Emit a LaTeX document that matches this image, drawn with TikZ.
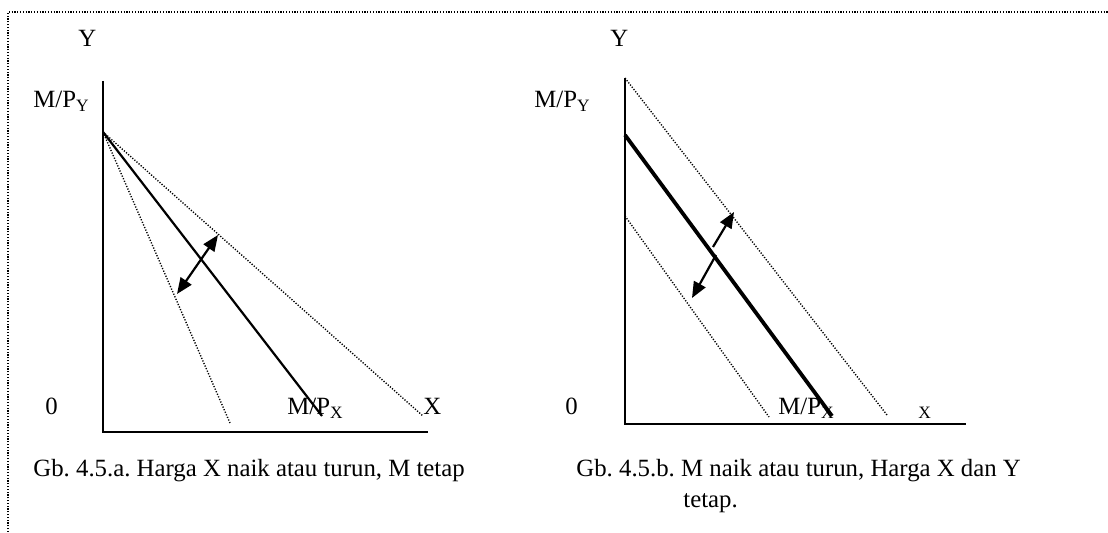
\documentclass[tikz,border=0pt]{standalone}
\usepackage{fontspec}
\setmainfont{Liberation Serif}
\frenchspacing
\usetikzlibrary{arrows.meta}
\tikzset{
  % text labels
  Lbl/.style={inner sep=0pt,anchor=base west,font=\fontsize{12.4}{14}\selectfont},
  % axes and budget lines
  Axis/.style={line width=1.1pt,color=black},
  Budget/.style={line width=#1,color=black},
  Budget/.default=1.1pt,
  Shift/.style={line width=0.7pt,dash pattern=on 0.6pt off 0.8pt},
  % arrows
  Arr/.style={-{Triangle[length=8pt,width=6.5pt]},line width=1.1pt},
  DArr/.style={{Triangle[length=8pt,width=6.5pt]}-{Triangle[length=8pt,width=6.5pt]},line width=1.1pt},
}
\begin{document}
\begin{tikzpicture}[x=0.5pt,y=-0.5pt]
  \useasboundingbox (0,0) rectangle (1108,533);
  % dotted frame
  \coordinate (f1) at (8,560);
  \coordinate (f2) at (8,12);
  \coordinate (f3) at (1130,12);
  \draw[line width=0.7pt,dash pattern=on 0.6pt off 0.8pt] (f1)--(f2)--(f3);

  % ---- Gb. 4.5.a
  \coordinate (aO) at (103,432);
  \coordinate (aT) at (103,81);
  \coordinate (aE) at (428,432);
  \coordinate (aP) at (103,132);
  \coordinate (aM) at (322,416);
  \coordinate (aS) at (230,423);
  \coordinate (aW) at (423,416);
  \coordinate (aA1) at (177,294);
  \coordinate (aA2) at (218,235);
  \draw[Axis] (aT)--(aO)--(aE);
  \draw[Shift] (aP)--(aS);
  \draw[Shift] (aP)--(aW);
  \draw[Budget] (aP)--(aM);
  \draw[DArr] (aA1)--(aA2);
  \node[Lbl] (aY)  at (78,47)   {Y};
  \node[Lbl] (aMy) at (33,108)  {M/P\textsubscript{Y}};
  \node[Lbl] (a0)  at (45,415)  {0};
  \node[Lbl] (aMx) at (287,415) {M/P\textsubscript{X}};
  \node[Lbl] (aX)  at (423,415) {X};
  \node[Lbl] (aCap) at (33,477) {Gb. 4.5.a. Harga X naik atau turun, M tetap};

  % ---- Gb. 4.5.b
  \coordinate (bO) at (625,424);
  \coordinate (bT) at (625,78);
  \coordinate (bE) at (966,424);
  \coordinate (bU1) at (625,78);
  \coordinate (bU2) at (887,415);
  \coordinate (bM1) at (625,135);
  \coordinate (bM2) at (832,416);
  \coordinate (bL1) at (625,216);
  \coordinate (bL2) at (769,417);
  \coordinate (bA0) at (713,247);
  \coordinate (bA1) at (734,212);
  \coordinate (bB0) at (716,255);
  \coordinate (bB1) at (692,298);
  \draw[Axis] (bT)--(bO)--(bE);
  \draw[Shift] (bU1)--(bU2);
  \draw[Shift] (bL1)--(bL2);
  \draw[Budget=1.9pt] (bM1)--(bM2);
  \draw[Arr] (bA0)--(bA1);
  \draw[Arr] (bB0)--(bB1);
  \node[Lbl] (bY)  at (610,47)  {Y};
  \node[Lbl] (bMy) at (534,108) {M/P\textsubscript{Y}};
  \node[Lbl] (b0)  at (565,415) {0};
  \node[Lbl] (bMx) at (778,415) {M/P\textsubscript{X}};
  \node[Lbl,font=\fontsize{8.7}{10}\selectfont] (bX) at (918,419) {X};
  \node[Lbl] (bCap1) at (576,477) {Gb. 4.5.b. M naik atau turun, Harga X dan Y};
  \node[Lbl] (bCap2) at (683,508) {tetap.};
\end{tikzpicture}
\end{document}
